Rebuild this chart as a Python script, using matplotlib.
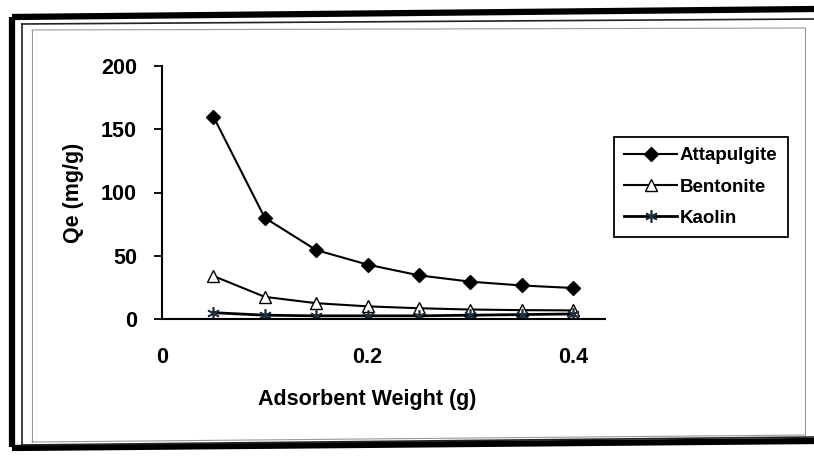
import matplotlib
matplotlib.use("Agg")
import matplotlib.pyplot as plt
from matplotlib.lines import Line2D

plt.rcParams['font.family'] = ['Liberation Sans', 'DejaVu Sans']

weights = [0.05, 0.10, 0.15, 0.20, 0.25, 0.30, 0.35, 0.40]
attapulgite = [160, 80, 54.5, 43, 34.5, 29.5, 26.5, 24.5]
bentonite = [34, 17.5, 12.5, 10, 8.5, 7.5, 7, 6.8]
kaolin = [5, 3, 2.5, 2.5, 2.5, 3, 3.5, 4]
x_ticks = [0, 0.2, 0.4]
x_tick_labels = ['0', '0.2', '0.4']
y_ticks = [0, 50, 100, 150, 200]

W, H = 814, 457
fig = plt.figure(figsize=(W / 100, H / 100), dpi=100)

# Scanned-page frame: thick dark outer border and thin inner borders
def fx(px):
    return px / W

def fy(py):
    return 1 - py / H

frame = [
    ((12, 12), (17, 447)),     # left thick
    ((12, 814), (17, 9)),      # top thick (slightly tilted)
    ((12, 814), (448, 441)),   # bottom thick
]
for (x0, x1), (y0, y1) in frame:
    fig.add_artist(Line2D([fx(x0), fx(x1)], [fy(y0), fy(y1)], color='black', lw=4.5,
                          solid_capstyle='butt'))
thin = [
    ((22, 22), (24, 445)),
    ((22, 814), (24, 19)),
    ((22, 814), (445, 437)),
]
for (x0, x1), (y0, y1) in thin:
    fig.add_artist(Line2D([fx(x0), fx(x1)], [fy(y0), fy(y1)], color='#222222', lw=1.2))
inner = [
    ((32, 32), (30, 442)),
    ((32, 805), (30, 28)),
    ((805, 805), (28, 435)),
    ((32, 805), (442, 435)),
]
for (x0, x1), (y0, y1) in inner:
    fig.add_artist(Line2D([fx(x0), fx(x1)], [fy(y0), fy(y1)], color='#9a9a9a', lw=0.8))

# Plot area
left, right, top, bottom = 162, 605, 66, 319
ax = fig.add_axes([left / W, 1 - bottom / H, (right - left) / W, (bottom - top) / H])
ax.set_facecolor('none')

ax.plot(weights, attapulgite, color='black', lw=1.5, marker='D', markersize=7.5,
        markerfacecolor='black', markeredgecolor='black', label='Attapulgite')
ax.plot(weights, bentonite, color='black', lw=1.5, marker='^', markersize=9,
        markerfacecolor='white', markeredgecolor='black', label='Bentonite')
ax.plot(weights, kaolin, color='black', lw=2.0, marker=(6, 2, 0), markersize=9,
        markeredgewidth=1.2, markeredgecolor='#1e3040', label='Kaolin')

ax.set_xlim(0, 0.431)
ax.set_ylim(0, 200)
ax.set_xticks(x_ticks)
ax.set_xticklabels(x_tick_labels)
ax.set_yticks(y_ticks)
for s in ['top', 'right']:
    ax.spines[s].set_visible(False)
for s in ['left', 'bottom']:
    ax.spines[s].set_linewidth(1.5)
ax.tick_params(axis='x', length=0, pad=20, labelsize=15.5)
ax.tick_params(axis='y', length=6, width=1.3, direction='out', pad=12, labelsize=15.5)
for lab in ax.get_xticklabels() + ax.get_yticklabels():
    lab.set_fontweight('bold')

ax.set_xlabel('Adsorbent Weight (g)', fontsize=15.5, fontweight='bold')
ax.xaxis.set_label_coords(0.463, -0.275)
ax.set_ylabel('Qe (mg/g)', fontsize=15.5, fontweight='bold', labelpad=12)

leg = ax.legend(loc='upper left', bbox_to_anchor=((614 - left) / (right - left),
                                                   1 - (137 - top) / (bottom - top)),
                bbox_transform=ax.transAxes, frameon=True, fancybox=False,
                edgecolor='black', framealpha=1, fontsize=13.5, handlelength=2.8,
                handletextpad=0.15, borderpad=0.55, labelspacing=0.75, borderaxespad=0)
leg.get_frame().set_linewidth(1.3)
for t in leg.get_texts():
    t.set_fontweight('bold')

fig.savefig('out.png', dpi=100)
